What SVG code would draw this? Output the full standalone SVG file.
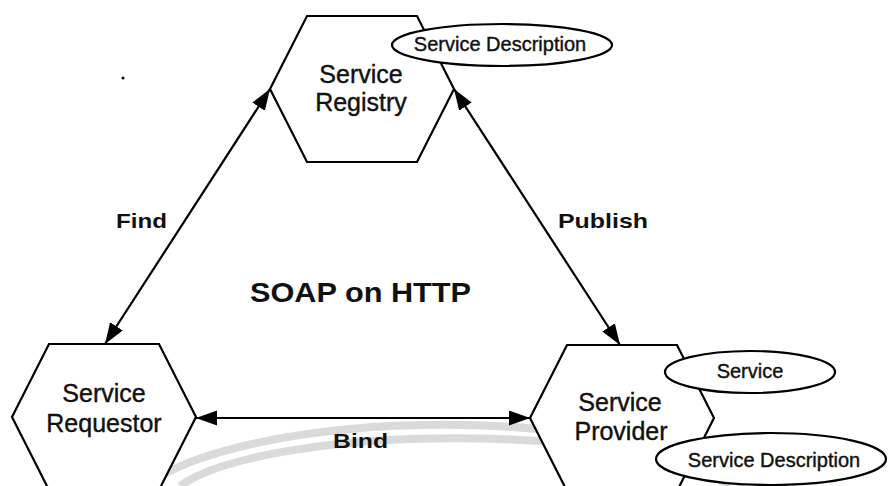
<svg xmlns="http://www.w3.org/2000/svg" width="888" height="486" viewBox="0 0 888 486">
<style>
.hex{fill:#fff;stroke:#000;stroke-width:2.2;stroke-linejoin:miter}
.ell{fill:#fff;stroke:#000;stroke-width:2.2}
.lbl{font-family:"Liberation Sans",Arial,sans-serif;font-size:25px;fill:#111;stroke:#111;stroke-width:0.4;text-anchor:middle}
.sm{font-family:"Liberation Sans",Arial,sans-serif;font-size:20px;fill:#111;stroke:#111;stroke-width:0.4;text-anchor:middle}
.bold{font-family:"Liberation Sans",Arial,sans-serif;font-weight:bold;font-size:21px;fill:#111}
.con{fill:none;stroke:#000;stroke-width:2.2;marker-start:url(#ah);marker-end:url(#ah)}
.wm{fill:none;stroke:#dadada;stroke-width:8}
</style>
<defs>
<marker id="ah" markerUnits="userSpaceOnUse" markerWidth="24" markerHeight="16" refX="21" refY="7.5" orient="auto-start-reverse">
<path d="M0,0 L21,7.5 L0,15 z" fill="#000"/>
</marker>
</defs>
<rect width="888" height="486" fill="#fff"/>
<g id="watermark">
<path class="wm" d="M146,486 A320,95 0 0 1 744,486"/>
<path class="wm" d="M180,486 A290,70 0 0 1 730,486"/>
</g>
<circle cx="123" cy="78" r="1.5" fill="#000"/>
<g id="registry">
<polygon class="hex" points="270,89 307,16 417,16 454,89 417,162 307,162"/>
<text class="lbl" x="361" y="83">Service</text>
<text class="lbl" x="361" y="111">Registry</text>
</g>
<g id="requestor">
<polygon class="hex" points="12,417 49,344 159,344 196,417 159,490 49,490"/>
<text class="lbl" x="104" y="402">Service</text>
<text class="lbl" x="104" y="432">Requestor</text>
</g>
<g id="provider">
<polygon class="hex" points="530,418 567,345 677,345 714,418 677,491 567,491"/>
<text class="lbl" x="620" y="411">Service</text>
<text class="lbl" x="621" y="440">Provider</text>
</g>
<g id="connectors">
<line class="con" x1="270" y1="89" x2="105" y2="344"/>
<line class="con" x1="454" y1="89" x2="620" y2="345"/>
<line class="con" x1="196" y1="418" x2="530" y2="418"/>
</g>
<g id="registry-description">
<ellipse class="ell" cx="502" cy="45" rx="110" ry="21"/>
<text class="sm" x="500" y="51">Service Description</text>
</g>
<g id="provider-service">
<ellipse class="ell" cx="750" cy="372" rx="85" ry="21"/>
<text class="sm" x="750" y="378">Service</text>
</g>
<g id="provider-description">
<ellipse class="ell" cx="771" cy="459" rx="115" ry="26"/>
<text class="sm" x="774" y="467">Service Description</text>
</g>
<g id="labels">
<text class="bold" x="116" y="228" textLength="51" lengthAdjust="spacingAndGlyphs">Find</text>
<text class="bold" x="558" y="228" textLength="90" lengthAdjust="spacingAndGlyphs">Publish</text>
<text class="bold" x="250" y="302" textLength="221" lengthAdjust="spacingAndGlyphs" style="font-size:28px">SOAP on HTTP</text>
<text class="bold" x="333" y="448" textLength="55" lengthAdjust="spacingAndGlyphs">Bind</text>
</g>
</svg>
